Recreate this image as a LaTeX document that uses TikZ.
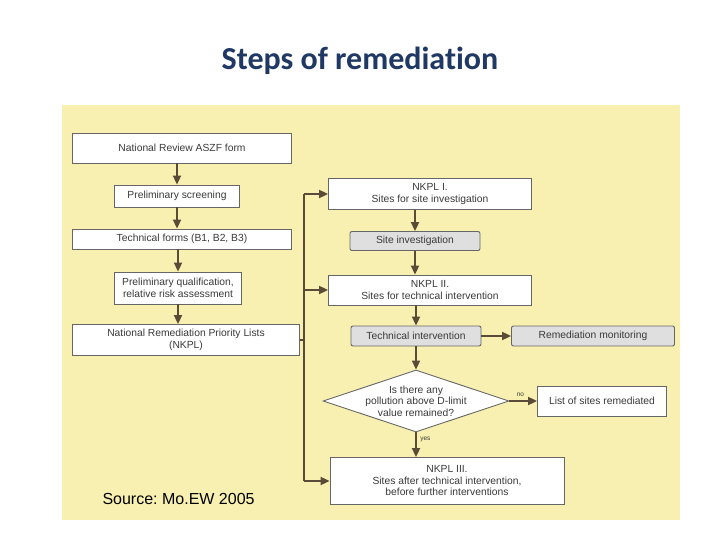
\documentclass[tikz,border=0pt]{standalone}
\usepackage{fontspec}
\setmainfont{Liberation Sans}
\newfontfamily\titlefont[Ligatures=NoCommon]{Carlito}
\usetikzlibrary{shapes.geometric,arrows.meta}
\definecolor{bgy}{HTML}{F8F0B0}
\definecolor{arr}{HTML}{5A4A38}
\definecolor{txt}{HTML}{3A3A3A}
\definecolor{ttl}{HTML}{1F3864}
\frenchspacing
\begin{document}
\begin{tikzpicture}[x=1pt,y=-1pt,
  box/.style={draw=gray!80!black,fill=white,line width=0.9pt,font=\fontsize{10.3}{11.5}\selectfont,text=txt,align=center,inner sep=0pt},
  gbox/.style={box,fill=gray!25,rounded corners=2pt},
  ar/.style={draw=arr,line width=2pt,-{Triangle[length=9pt,width=8pt]}},
  ln/.style={draw=arr,line width=2pt}]
\useasboundingbox (0,0) rectangle (720,540);
\fill[white] (0,0) rectangle (720,540);
\fill[bgy] (62,105) rectangle (680,520);
\node[font=\titlefont\bfseries\fontsize{32}{36}\selectfont,text=ttl] (title) at (360,61) {Steps of remediation};
\node[box,minimum width=219pt,minimum height=30pt] (a) at (182,148) {National Review ASZF form};
\node[box,minimum width=125pt,minimum height=22pt] (b) at (177,196) {Preliminary screening};
\node[box,minimum width=219pt,minimum height=20pt] (c) at (182,239) {Technical forms (B1, B2, B3)};
\node[box,minimum width=127pt,minimum height=32pt] (d) at (178,288) {Preliminary qualification,\\relative risk assessment};
\node[box,minimum width=227pt,minimum height=31pt] (e) at (186,340) {National Remediation Priority Lists\\(NKPL)};
\node[box,minimum width=203pt,minimum height=31pt] (f) at (430,194) {NKPL I.\\Sites for site investigation};
\node[gbox,minimum width=130pt,minimum height=19pt] (g) at (415,241) {Site investigation};
\node[gbox,minimum width=130pt,minimum height=20pt] (i) at (416,336) {Technical intervention};
\node[box,minimum width=203pt,minimum height=30pt] (h) at (430,290) {NKPL II.\\Sites for technical intervention};
\node[gbox,minimum width=163pt,minimum height=20pt] (j) at (593,336) {Remediation monitoring};
\node[box,diamond,aspect=3,inner sep=-4pt,minimum width=186pt,minimum height=62pt] (k) at (416,401) {Is there any\\pollution above D-limit\\value remained?};
\node[box,minimum width=129pt,minimum height=30pt] (l) at (602,401) {List of sites remediated};
\node[box,minimum width=234pt,minimum height=47pt] (m) at (447,481) {NKPL III.\\Sites after technical intervention,\\before further interventions};
\coordinate (bt) at (304,194);
\coordinate (bb) at (304,481);
\coordinate (bm) at (304,340);
\coordinate (b2) at (304,290);
\draw[ar] (a.south -| b.north) -- (b.north);
\draw[ar] (b.south) -- (b.south |- c.north);
\draw[ar] (c.south -| d.north) -- (d.north);
\draw[ar] (d.south) -- (d.south |- e.north);
\draw[ln] (e.east) -- (bm);
\draw[ln] (bt) -- (bb);
\draw[ar] (bt) -- (f.west);
\draw[ar] (b2) -- (h.west);
\draw[ar] (bb) -- (m.west);
\draw[ar] (f.south -| g.north) -- (g.north);
\draw[ar] (g.south) -- (g.south |- h.north);
\draw[ar] (h.south -| i.north) -- (i.north);
\draw[ar] (i.east) -- (j.west);
\draw[ar] (i.south) -- (k.north);
\draw[ar] (k.east) -- node[above,font=\fontsize{6.5}{7}\selectfont,text=txt,pos=0.4] {no} (l.west);
\draw[ar] (k.south) -- node[right,font=\fontsize{6.5}{7}\selectfont,text=txt,pos=0.3] {yes} (k.south |- m.north);
\node[anchor=west,font=\fontsize{16}{18}\selectfont] (src) at (99,499) {Source: Mo.EW 2005};
\end{tikzpicture}
\end{document}
